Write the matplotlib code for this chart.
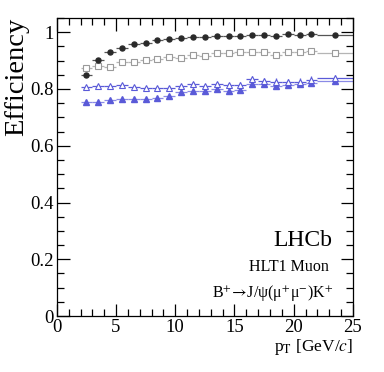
import matplotlib
matplotlib.use('Agg')
import matplotlib.pyplot as plt
import numpy as np
from matplotlib.ticker import MultipleLocator

plt.rcParams.update({
    'font.family': ['Liberation Serif', 'DejaVu Serif'],
    'mathtext.fontset': 'stix',
    'font.size': 12,
    'xtick.direction': 'in',
    'ytick.direction': 'in',
    'xtick.top': True,
    'ytick.right': True,
})

# bin edges in pT [GeV/c]
bin_lo = [2, 3, 4, 5, 6, 7, 8, 9, 10, 11, 12, 13, 14, 15, 16, 17, 18, 19, 20, 21, 22]
bin_hi = [3, 4, 5, 6, 7, 8, 9, 10, 11, 12, 13, 14, 15, 16, 17, 18, 19, 20, 21, 22, 25]

eff_black = [0.851, 0.901, 0.929, 0.945, 0.957, 0.962, 0.971, 0.975, 0.980, 0.982, 0.982,
             0.988, 0.986, 0.988, 0.991, 0.990, 0.988, 0.993, 0.991, 0.994, 0.991]
eff_grey = [0.874, 0.882, 0.878, 0.895, 0.895, 0.901, 0.904, 0.911, 0.909, 0.920, 0.918,
            0.926, 0.928, 0.931, 0.932, 0.931, 0.919, 0.929, 0.929, 0.935, 0.927]
eff_open = [0.808, 0.810, 0.812, 0.814, 0.807, 0.803, 0.802, 0.805, 0.810, 0.818, 0.810,
            0.819, 0.814, 0.815, 0.835, 0.827, 0.826, 0.823, 0.826, 0.833, 0.840]
eff_full = [0.754, 0.755, 0.761, 0.765, 0.765, 0.765, 0.768, 0.775, 0.790, 0.793, 0.794,
            0.800, 0.794, 0.798, 0.816, 0.819, 0.810, 0.813, 0.819, 0.822, 0.829]
err_black = [0.004, 0.003, 0.002, 0.002, 0.002, 0.002, 0.002, 0.002, 0.002, 0.002, 0.002,
             0.002, 0.002, 0.002, 0.002, 0.002, 0.002, 0.002, 0.002, 0.002, 0.002]
err_blue = [0.003, 0.003, 0.003, 0.003, 0.003, 0.004, 0.004, 0.004, 0.005, 0.006, 0.006,
            0.007, 0.008, 0.008, 0.010, 0.010, 0.011, 0.011, 0.012, 0.012, 0.010]

x = (np.array(bin_lo) + np.array(bin_hi)) / 2
xerr = (np.array(bin_hi) - np.array(bin_lo)) / 2

fig = plt.figure(figsize=(3.84, 3.72), dpi=100)
ax = fig.add_axes([0.148, 0.1505, 0.771, 0.801])

BLUE = '#5a5ad8'
LBLUE = '#8a8ae6'

ax.errorbar(x, eff_grey, xerr=xerr, yerr=err_black, fmt='s', ms=4.2, mfc='white',
            mec='#9a9a9a', mew=0.8, ecolor='#b5b5b5', elinewidth=0.9, capsize=0)
ax.errorbar(x, eff_black, xerr=xerr, yerr=err_black, fmt='o', ms=3.6, color='#2a2a2a',
            ecolor='#555555', elinewidth=0.9, capsize=0)
ax.errorbar(x, eff_full, xerr=xerr, yerr=err_blue, fmt='^', ms=3.8, color=BLUE,
            ecolor=LBLUE, elinewidth=0.9, capsize=0)
ax.errorbar(x, eff_open, xerr=xerr, yerr=err_blue, fmt='^', ms=4.6, mfc='white',
            mec=BLUE, mew=0.8, ecolor=BLUE, elinewidth=0.9, capsize=0)

ax.set_xlim(0, 25)
ax.set_ylim(0, 1.05)
ax.xaxis.set_major_locator(MultipleLocator(5))
ax.xaxis.set_minor_locator(MultipleLocator(1))
ax.yaxis.set_minor_locator(MultipleLocator(0.05))
ax.set_yticks([0, 0.2, 0.4, 0.6, 0.8, 1.0])
ax.set_yticklabels(['0', '0.2', '0.4', '0.6', '0.8', '1'])
ax.tick_params(which='major', length=9, width=0.9, labelsize=13.5, pad=2)
ax.tick_params(which='minor', length=5, width=0.9)
for s in ax.spines.values():
    s.set_linewidth(0.9)

ax.set_ylabel('Efficiency', fontsize=20.5, loc='top', labelpad=1)
ax.set_xlabel(r'p$_{\mathrm{T}}$ [GeV/$c$]', fontsize=12.5, loc='right', labelpad=1)

ax.text(0.93, 0.235, 'LHCb', transform=ax.transAxes, ha='right', va='baseline', fontsize=17)
ax.text(0.92, 0.15, 'HLT1 Muon', transform=ax.transAxes, ha='right', va='baseline', fontsize=11.5)
ax.text(0.935, 0.063, r'B$^{+}\!\rightarrow\!$J/ψ(μ$^{+}$μ$^{-}$)K$^{+}$',
        transform=ax.transAxes, ha='right', va='baseline', fontsize=11.5)

fig.savefig('out.png', dpi=100)
